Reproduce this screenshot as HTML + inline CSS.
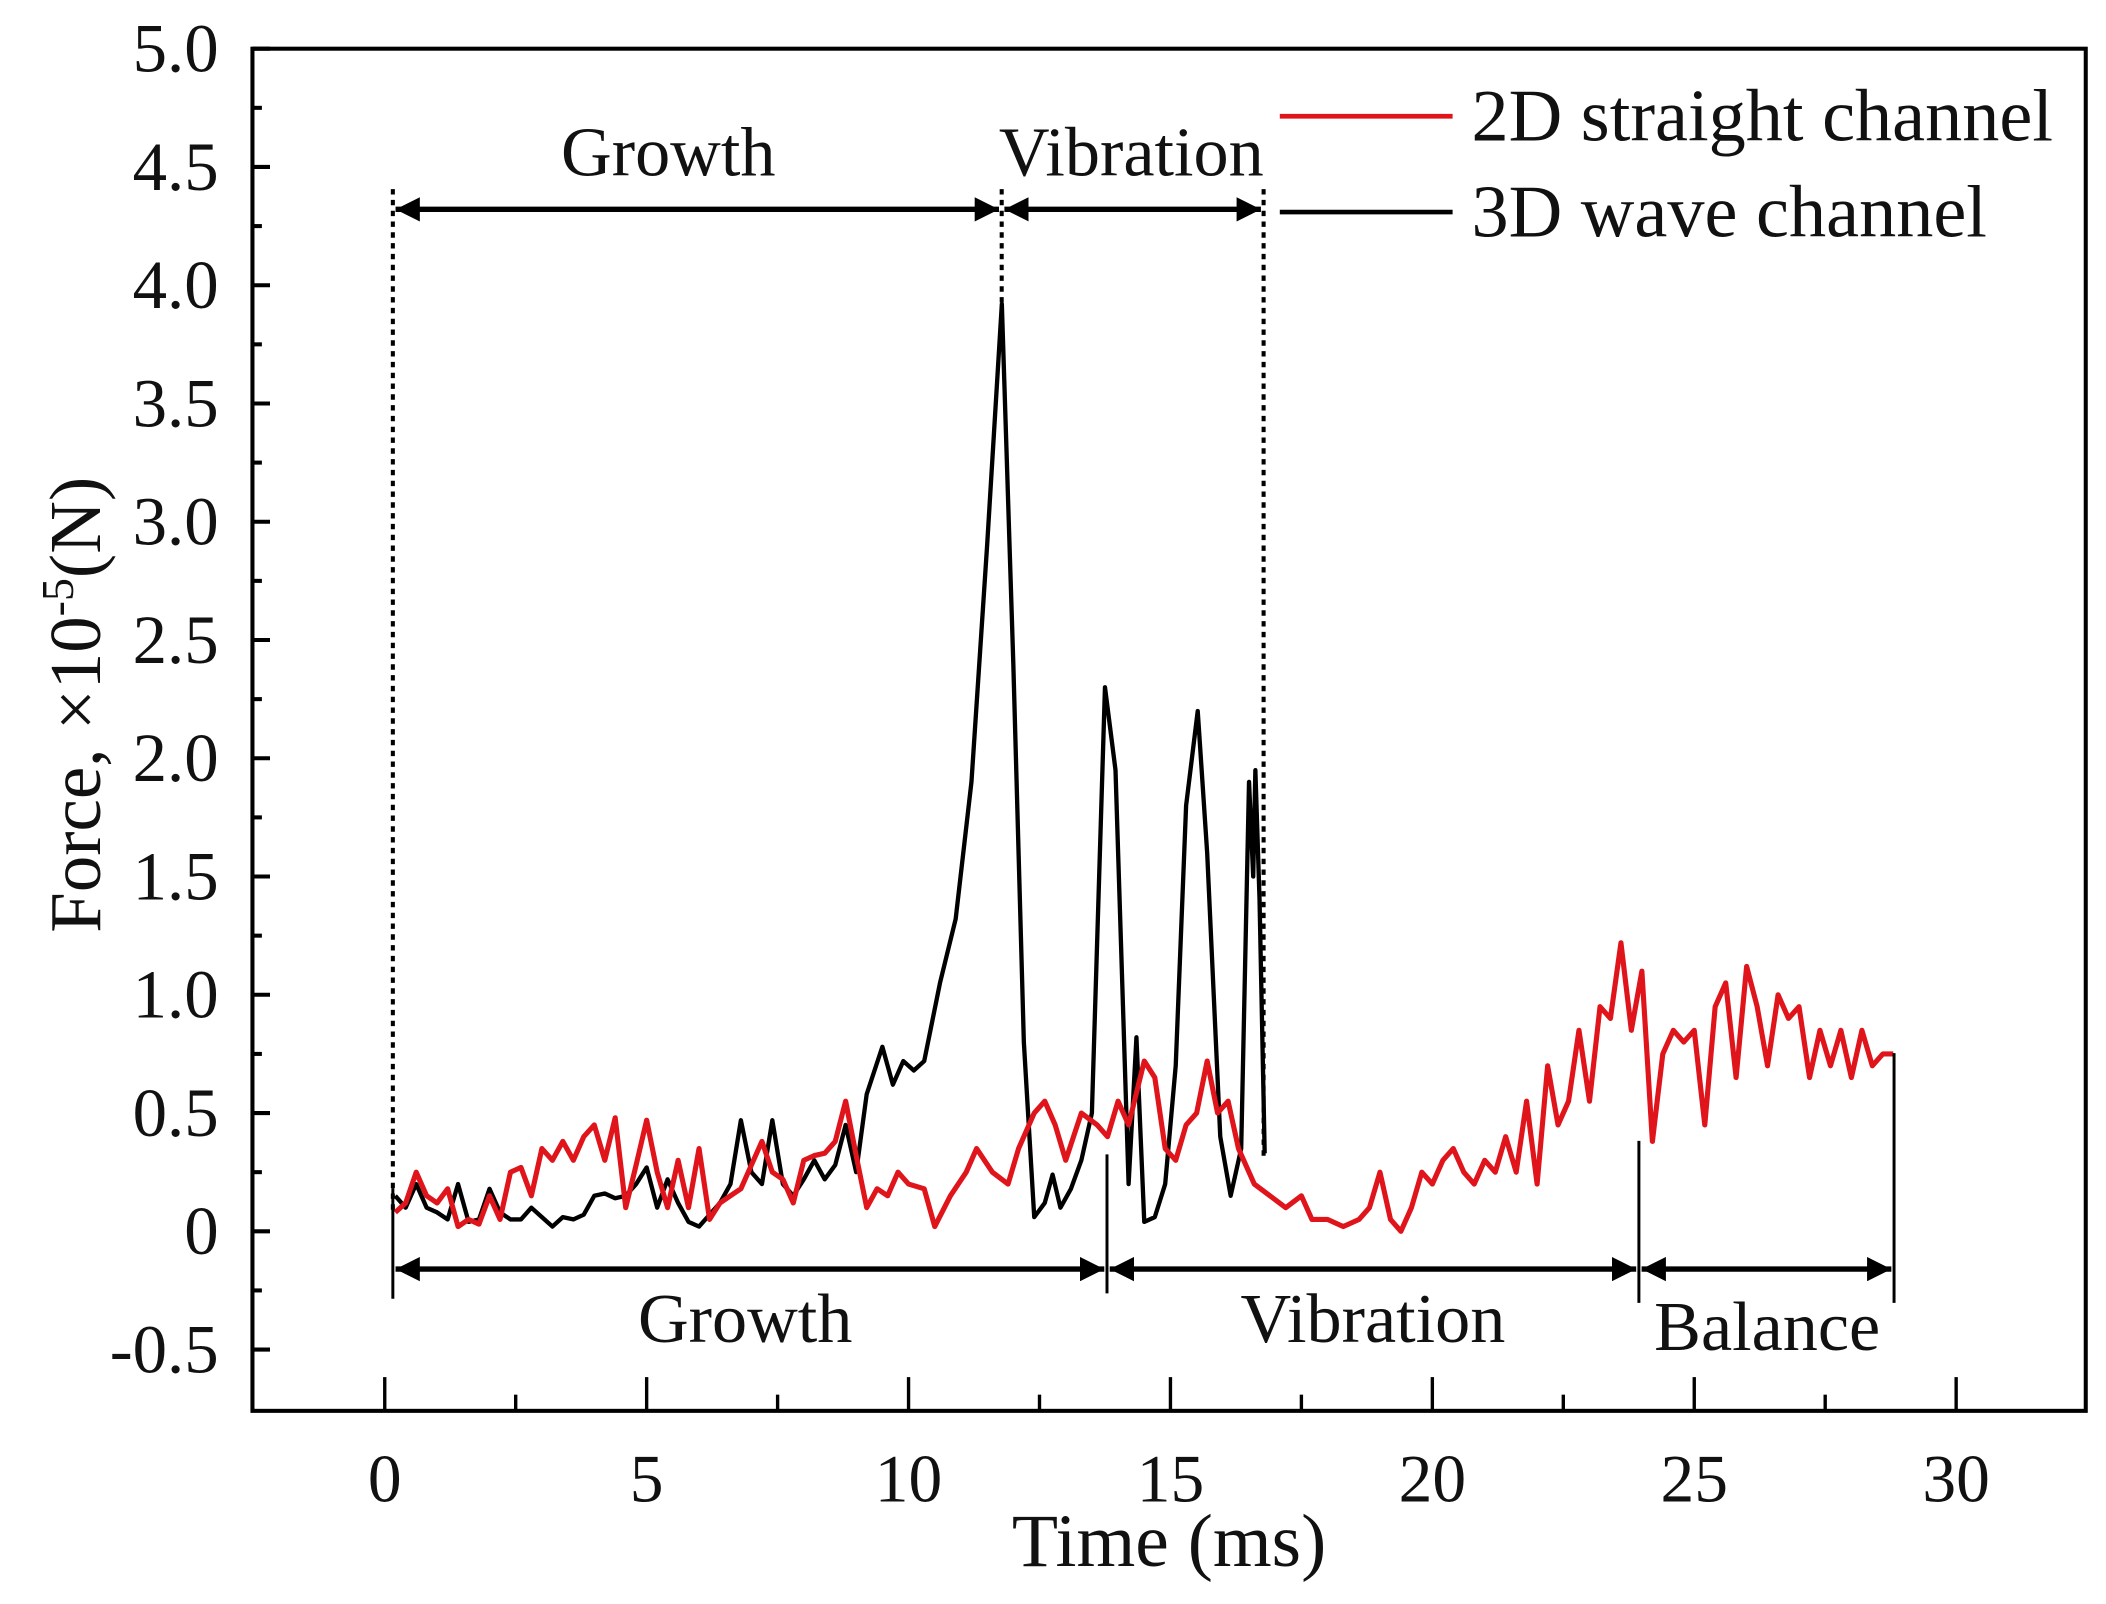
<!DOCTYPE html>
<html><head><meta charset="utf-8"><style>
html,body{margin:0;padding:0;background:#fff}
svg{display:block}
text{font-family:"Liberation Serif",serif;fill:#111}
</style></head><body>
<svg id="chart" width="2106" height="1604" viewBox="0 0 1560 1188" xmlns="http://www.w3.org/2000/svg">
<defs>
<marker id="ah" viewBox="0 0 10 10" refX="10" refY="5" markerWidth="4.5" markerHeight="4.5" orient="auto-start-reverse"><path d="M0,0 L10,5 L0,10 z" fill="#000"/></marker>
</defs>
<rect x="187" y="36" width="1358" height="1009" fill="none" stroke="#000" stroke-width="3"/>
<g id="axes"></g>
<g id="series"></g>
<g id="annot"></g>
<text x="866" y="1160" font-size="56" text-anchor="middle">Time (ms)</text>
<text transform="translate(74,522) rotate(-90)" font-size="54" text-anchor="middle">Force, ×10<tspan dy="-20" font-size="34">-5</tspan><tspan dy="20">(N)</tspan></text>
<g>
<line x1="948" y1="86" x2="1076" y2="86" stroke="#e0141b" stroke-width="3.5"/>
<text x="1090" y="104" font-size="55">2D straight channel</text>
<line x1="948" y1="157" x2="1076" y2="157" stroke="#000" stroke-width="3.5"/>
<text x="1090" y="175" font-size="55">3D wave channel</text>
</g>
</svg>
<script>
const xTickValues=[0,5,10,15,20,25,30];
const yTickValues=[-0.5,0,0.5,1.0,1.5,2.0,2.5,3.0,3.5,4.0,4.5,5.0];
const yTickLabels=["-0.5","0","0.5","1.0","1.5","2.0","2.5","3.0","3.5","4.0","4.5","5.0"];
const waveTime=[0.2,0.4,0.6,0.8,1.0,1.2,1.4,1.6,1.8,2.0,2.2,2.4,2.6,2.8,3.0,3.2,3.4,3.6,3.8,4.0,4.2,4.4,4.6,4.8,5.0,5.2,5.4,5.6,5.8,6.0,6.2,6.4,6.6,6.8,7.0,7.2,7.4,7.6,7.8,8.0,8.2,8.4,8.6,8.8,9.0,9.2,9.5,9.7,9.9,10.1,10.3,10.6,10.9,11.2,11.5,11.78,12.0,12.2,12.4,12.6,12.75,12.9,13.1,13.3,13.5,13.75,13.95,14.2,14.35,14.5,14.7,14.9,15.1,15.3,15.52,15.7,15.95,16.15,16.35,16.5,16.58,16.62,16.7,16.8];
const waveForce=[0.15,0.1,0.2,0.1,0.08,0.05,0.2,0.04,0.05,0.18,0.08,0.05,0.05,0.1,0.06,0.02,0.06,0.05,0.07,0.15,0.16,0.14,0.15,0.2,0.27,0.1,0.22,0.12,0.04,0.02,0.07,0.12,0.2,0.47,0.25,0.2,0.47,0.2,0.15,0.22,0.3,0.22,0.28,0.45,0.25,0.58,0.78,0.62,0.72,0.68,0.72,1.05,1.32,1.9,2.9,3.92,2.4,0.8,0.06,0.12,0.24,0.1,0.18,0.3,0.5,2.3,1.95,0.2,0.82,0.04,0.06,0.2,0.7,1.8,2.2,1.6,0.4,0.15,0.35,1.9,1.5,1.95,1.4,0.33];
const straightTime=[0.2,0.4,0.6,0.8,1.0,1.2,1.4,1.6,1.8,2.0,2.2,2.4,2.6,2.8,3.0,3.2,3.4,3.6,3.8,4.0,4.2,4.4,4.6,4.8,5.0,5.2,5.4,5.6,5.8,6.0,6.2,6.4,6.6,6.8,7.0,7.2,7.4,7.6,7.8,8.0,8.2,8.4,8.6,8.8,9.0,9.2,9.4,9.6,9.8,10.0,10.3,10.5,10.8,11.1,11.3,11.6,11.9,12.1,12.4,12.6,12.8,13.0,13.3,13.6,13.8,14.0,14.2,14.5,14.7,14.9,15.1,15.3,15.5,15.7,15.9,16.1,16.3,16.6,16.9,17.2,17.5,17.7,18.0,18.3,18.6,18.8,19.0,19.2,19.4,19.6,19.8,20.0,20.2,20.4,20.6,20.8,21.0,21.2,21.4,21.6,21.8,22.0,22.2,22.4,22.6,22.8,23.0,23.2,23.4,23.6,23.8,24.0,24.2,24.4,24.6,24.8,25.0,25.2,25.4,25.6,25.8,26.0,26.2,26.4,26.6,26.8,27.0,27.2,27.4,27.6,27.8,28.0,28.2,28.4,28.6,28.8];
const straightForce=[0.08,0.12,0.25,0.15,0.12,0.18,0.02,0.05,0.03,0.15,0.05,0.25,0.27,0.15,0.35,0.3,0.38,0.3,0.4,0.45,0.3,0.48,0.1,0.28,0.47,0.25,0.1,0.3,0.1,0.35,0.05,0.12,0.15,0.18,0.28,0.38,0.25,0.22,0.12,0.3,0.32,0.33,0.38,0.55,0.32,0.1,0.18,0.15,0.25,0.2,0.18,0.02,0.15,0.25,0.35,0.25,0.2,0.35,0.5,0.55,0.45,0.3,0.5,0.45,0.4,0.55,0.45,0.72,0.65,0.35,0.3,0.45,0.5,0.72,0.5,0.55,0.35,0.2,0.15,0.1,0.15,0.05,0.05,0.02,0.05,0.1,0.25,0.05,0.0,0.1,0.25,0.2,0.3,0.35,0.25,0.2,0.3,0.25,0.4,0.25,0.55,0.2,0.7,0.45,0.55,0.85,0.55,0.95,0.9,1.22,0.85,1.1,0.38,0.75,0.85,0.8,0.85,0.45,0.95,1.05,0.65,1.12,0.95,0.7,1.0,0.9,0.95,0.65,0.85,0.7,0.85,0.65,0.85,0.7,0.75,0.75];

const NS="http://www.w3.org/2000/svg";
const X0=285,XS=38.8,Y0=912,YS=175.2;
function sx(t){return X0+t*XS;}
function sy(v){return Y0-v*YS;}
function mk(tag,attrs,parent){const e=document.createElementNS(NS,tag);for(const k in attrs)e.setAttribute(k,attrs[k]);parent.appendChild(e);return e;}
const axes=document.getElementById('axes');
for(let i=0;i<xTickValues.length;i++){
  const x=sx(xTickValues[i]);
  const t=mk('line',{x1:x,y1:1045,x2:x,y2:1020,stroke:'#000','stroke-width':2.5},axes);
  
  
  const lb=mk('text',{x:x,y:1112,'font-size':50,'text-anchor':'middle'},axes);
  lb.textContent=xTickValues[i];
  
  
  if(i<xTickValues.length-1){
    const m=sx(xTickValues[i]+2.5);
    const mt=mk('line',{x1:m,y1:1045,x2:m,y2:1033,stroke:'#000','stroke-width':2.5},axes);
    
    
  }
}
for(let i=0;i<yTickValues.length;i++){
  const y=sy(yTickValues[i]);
  const t=mk('line',{x1:187,y1:y,x2:200,y2:y,stroke:'#000','stroke-width':3},axes);
  
  
  const lb=mk('text',{x:162,y:y+17,'font-size':51,'text-anchor':'end'},axes);
  lb.textContent=yTickLabels[i];
  
  
  if(i<yTickValues.length-1){
    const m=sy(yTickValues[i]+0.25);
    const mt=mk('line',{x1:187,y1:m,x2:194,y2:m,stroke:'#000','stroke-width':3},axes);
    
    
  }
}
const ser=document.getElementById('series');
function pts(ts,vs){return ts.map((t,i)=>sx(t).toFixed(1)+','+sy(vs[i]).toFixed(1)).join(' ');}
const l1=mk('polyline',{points:pts(waveTime,waveForce),fill:'none',stroke:'#000','stroke-width':3.2,'stroke-linejoin':'round'},ser);


const l2=mk('polyline',{points:pts(straightTime,straightForce),fill:'none',stroke:'#e0141b','stroke-width':3.8,'stroke-linejoin':'round'},ser);



const an=document.getElementById('annot');
function vline(x,y1,y2,dotted,name){const e=mk('line',{x1:x,y1:y1,x2:x,y2:y2,stroke:'#000','stroke-width':dotted?3:2.2,'stroke-dasharray':dotted?'4,4':'none'},an);}
function arrow(x1,x2,y,name){const e=mk('line',{x1:x1+2,y1:y,x2:x2-2,y2:y,stroke:'#000','stroke-width':4,'marker-start':'url(#ah)','marker-end':'url(#ah)'},an);}
function label(x,y,s,name){const e=mk('text',{x:x,y:y,'font-size':52,'text-anchor':'middle'},an);e.textContent=s;}
vline(291,140,900,true,'3d-phase-divider-start');
vline(742,140,225,true,'3d-phase-divider-growth-end');
vline(936,140,860,true,'3d-phase-divider-vibration-end');
arrow(291,742,155,'3d-growth-arrow');
arrow(742,936,155,'3d-vibration-arrow');
label(495,130,'Growth','3d-growth-label');
label(838,130,'Vibration','3d-vibration-label');
vline(291,880,962,false,'2d-phase-divider-start');
vline(820,855,958,false,'2d-phase-divider-growth-end');
vline(1214,845,965,false,'2d-phase-divider-vibration-end');
vline(1403,780,965,false,'2d-phase-divider-end');
arrow(291,820,940,'2d-growth-arrow');
arrow(820,1214,940,'2d-vibration-arrow');
arrow(1214,1403,940,'2d-balance-arrow');
label(552,994,'Growth','2d-growth-label');
label(1017,994,'Vibration','2d-vibration-label');
label(1309,1000,'Balance','2d-balance-label');
</script>
</body></html>
